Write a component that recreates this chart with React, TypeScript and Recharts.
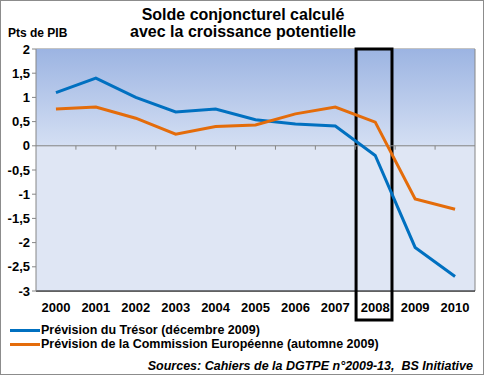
import React from 'react';
import {
  CartesianGrid,
  Line,
  LineChart,
  ReferenceArea,
  ReferenceLine,
  XAxis,
  YAxis,
} from 'recharts';

const years = ['2000', '2001', '2002', '2003', '2004', '2005', '2006', '2007', '2008', '2009', '2010'];
const tresor = [1.1, 1.4, 1.0, 0.7, 0.76, 0.54, 0.45, 0.41, -0.2, -2.1, -2.7];
const commission = [0.76, 0.8, 0.57, 0.24, 0.4, 0.43, 0.66, 0.8, 0.49, -1.1, -1.31];
const yTicks = [-3, -2.5, -2, -1.5, -1, -0.5, 0, 0.5, 1, 1.5, 2];
const highlightYear = 8; // 2008

const FONT = '"Liberation Sans", Arial, sans-serif';
const BLUE = '#0070C0';
const ORANGE = '#E46C0A';

const App = () => {
  const data = years.map((y, i) => ({ idx: i, year: y, tresor: tresor[i], commission: commission[i] }));
  const bounds = years.slice(1).map((_, i) => i + 0.5);

  return (
    <div
      style={{
        position: 'absolute',
        left: 0,
        top: 0,
        width: 482,
        height: 373,
        border: '1px solid #8c8c8c',
        background: '#fff',
        fontFamily: FONT,
      }}
    >
      <div style={{ position: 'absolute', left: 0, width: 484, top: 5, textAlign: 'center', fontWeight: 'bold', fontSize: 16, lineHeight: '17px' }}>
        Solde conjoncturel calculé
        <br />
        avec la croissance potentielle
      </div>
      <div style={{ position: 'absolute', left: 7, top: 25, fontWeight: 'bold', fontSize: 12 }}>Pts de PIB</div>

      <div style={{ position: 'absolute', left: -1, top: -1 }}>
        <LineChart width={484} height={375} data={data} margin={{ top: 49, right: 9, bottom: 54, left: 0 }}>
          <defs>
            <linearGradient id="bgTop" x1="0" y1="0" x2="0" y2="1">
              <stop offset="0%" stopColor="#9CB4E2" />
              <stop offset="100%" stopColor="#D4DFF3" />
            </linearGradient>
          </defs>
          <ReferenceArea x1={-0.5} x2={10.5} y1={0} y2={2} fill="url(#bgTop)" fillOpacity={1} stroke="none" />
          <ReferenceArea x1={-0.5} x2={10.5} y1={-3} y2={0} fill="#DFE6F4" fillOpacity={1} stroke="none" />
          <CartesianGrid vertical={false} stroke="#868686" />
          <XAxis
            type="number"
            dataKey="idx"
            domain={[-0.5, 10.5]}
            ticks={years.map((_, i) => i)}
            tickFormatter={(i) => years[i]}
            axisLine={{ stroke: '#000', strokeWidth: 1 }}
            tickLine={false}
            tick={{ fill: '#000', fontSize: 13, fontWeight: 'bold', fontFamily: FONT }}
            tickMargin={6}
            height={30}
          />
          <YAxis
            domain={[-3, 2]}
            ticks={yTicks}
            interval={0}
            tickFormatter={(v) => String(v).replace('.', ',')}
            axisLine={{ stroke: '#868686' }}
            tickLine={{ stroke: '#868686' }}
            tickSize={4}
            tick={{ fill: '#000', fontSize: 13, fontWeight: 'bold', fontFamily: FONT }}
            width={36}
          />
          <ReferenceLine y={0} stroke="#868686" />
          <ReferenceLine x={10.5} stroke="#868686" />
          {bounds.map((b) => (
            <ReferenceLine key={b} segment={[{ x: b, y: 0 }, { x: b, y: -0.08 }]} stroke="#868686" />
          ))}
          <Line type="linear" dataKey="tresor" stroke={BLUE} strokeWidth={3} dot={false} isAnimationActive={false} />
          <Line type="linear" dataKey="commission" stroke={ORANGE} strokeWidth={3} dot={false} isAnimationActive={false} />
          <ReferenceArea
            x1={highlightYear - 0.48}
            x2={highlightYear + 0.42}
            y1={-3.6}
            y2={2}
            ifOverflow="visible"
            fill="none"
            stroke="#000"
            strokeWidth={3}
          />
        </LineChart>
      </div>

      <div style={{ position: 'absolute', left: 9, top: 322, fontWeight: 'bold', fontSize: 12.5, lineHeight: '14px' }}>
        {[
          { name: 'Prévision du Trésor (décembre 2009)', color: BLUE },
          { name: 'Prévision de la Commission Européenne (automne 2009)', color: ORANGE },
        ].map((s) => (
          <div key={s.name} style={{ display: 'flex', alignItems: 'center' }}>
            <span style={{ display: 'inline-block', width: 30, height: 3, background: s.color, marginRight: 1 }} />
            {s.name}
          </div>
        ))}
      </div>
      <div style={{ position: 'absolute', right: 10, top: 358, fontWeight: 'bold', fontStyle: 'italic', fontSize: 12.5 }}>
        Sources: Cahiers de la DGTPE n°2009-13,&nbsp; BS Initiative
      </div>
    </div>
  );
};

export default App;
